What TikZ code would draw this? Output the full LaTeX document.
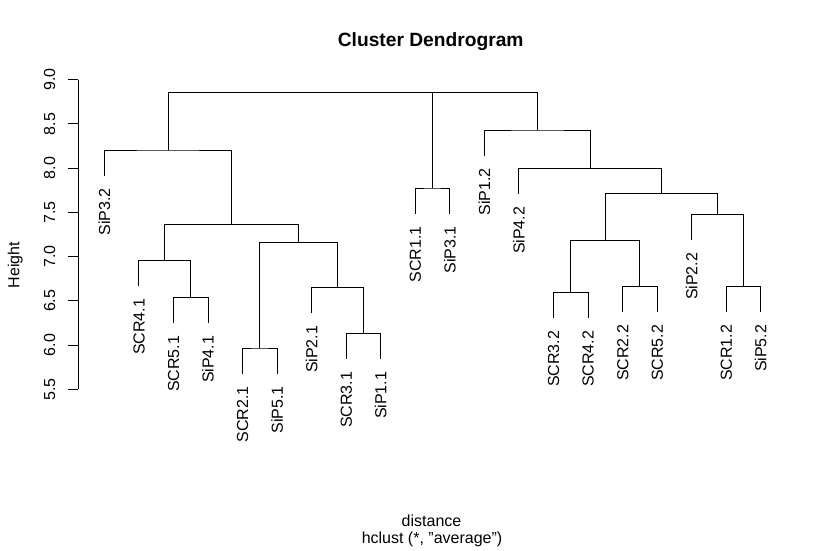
\documentclass[tikz,border=0pt]{standalone}
\usepackage{fontspec}
\setmainfont{Liberation Sans}
\begin{document}
\begin{tikzpicture}[x=1pt,y=-1pt,
  tree/.style={line width=0.9pt,black},
  leaflab/.style={rotate=90,anchor=base east,inner sep=0pt,font=\fontsize{16}{19}\selectfont},
  ticklab/.style={rotate=90,anchor=base,inner sep=0pt,font=\fontsize{16}{19}\selectfont},
  plain/.style={inner sep=0pt,font=\fontsize{16}{19}\selectfont}]
\fill[white] (0,0) rectangle (827,550);
\useasboundingbox (0,0) rectangle (827,550);
% title and labels
\node[inner sep=0pt,anchor=base,font=\fontsize{19.2}{23}\selectfont\bfseries] (title) at (430.7,46.7) {Cluster Dendrogram};
\node[plain,anchor=base] (xlab) at (431.5,526) {distance};
\node[plain,anchor=base] (sub) at (432,543) {hclust (*, "average")};
\node[ticklab] (ylab) at (19.5,265.2) {Height};
% axis
\coordinate (ax0) at (78.3,389.3);
\coordinate (ax1) at (78.3,79.7);
\draw[tree] (ax0) -- (ax1);
\foreach \v/\k in {5.5/0,6.0/1,6.5/2,7.0/3,7.5/4,8.0/5,8.5/6,9.0/7}{
  \coordinate (tk\k) at (78.3,389.3-\k*44.229);
  \coordinate (tl\k) at (68.3,389.3-\k*44.229);
  \draw[tree] (tk\k) -- (tl\k);
  \node[ticklab] (tn\k) at (55,389.3-\k*44.229) {\v};
}
% leaves: index/name/end y
\foreach \i/\n/\y in {1/SiP3.2/175.7,2/SCR4.1/286,3/SCR5.1/323,4/SiP4.1/323,5/SCR2.1/373.7,6/SiP5.1/373.7,7/SiP2.1/313,8/SCR3.1/359,9/SiP1.1/359,10/SCR1.1/213.7,11/SiP3.1/213.7,12/SiP1.2/155.7,13/SiP4.2/194,14/SCR3.2/318,15/SCR4.2/318,16/SCR2.2/312,17/SCR5.2/312,18/SiP2.2/240,19/SCR1.2/312,20/SiP5.2/312}{
  \coordinate (l\i) at (104.3+\i*34.55-34.55,\y);
  \node[leaflab] (t\i) at (104.3+\i*34.55-34.55+5.7,\y+12.6) {\n};
}
% merges
\coordinate (m53) at (190.675,297.3);
\coordinate (m41) at (164.76,260.3);
\coordinate (m21) at (259.78,348);
\coordinate (m31) at (363.43,333.3);
\coordinate (m2b) at (337.51,287.3);
\coordinate (mB) at (298.64,242.3);
\coordinate (mL2) at (231.7,224.3);
\coordinate (mL) at (168,150);
\coordinate (mM) at (432.5,188);
\coordinate (m32) at (570.73,292.3);
\coordinate (m22) at (639.83,286.3);
\coordinate (mR4) at (605.28,240.3);
\coordinate (m12) at (743.48,286.3);
\coordinate (mR5) at (717.56,214.3);
\coordinate (mR3) at (661.42,193.3);
\coordinate (mR2) at (590.16,168.3);
\coordinate (mR) at (537.26,130);
\coordinate (r1) at (300.25,92.3);
\coordinate (root) at (418.76,92.3);
\draw[tree] (l3) |- (m53) -| (l4);
\draw[tree] (l2) |- (m41) -| (m53);
\draw[tree] (l5) |- (m21) -| (l6);
\draw[tree] (l8) |- (m31) -| (l9);
\draw[tree] (l7) |- (m2b) -| (m31);
\draw[tree] (m21) |- (mB) -| (m2b);
\draw[tree] (m41) |- (mL2) -| (mB);
\draw[tree] (l1) |- (mL) -| (mL2);
\draw[tree] (l10) |- (mM) -| (l11);
\draw[tree] (l14) |- (m32) -| (l15);
\draw[tree] (l16) |- (m22) -| (l17);
\draw[tree] (m32) |- (mR4) -| (m22);
\draw[tree] (l19) |- (m12) -| (l20);
\draw[tree] (l18) |- (mR5) -| (m12);
\draw[tree] (mR4) |- (mR3) -| (mR5);
\draw[tree] (l13) |- (mR2) -| (mR3);
\draw[tree] (l12) |- (mR) -| (mR2);
\draw[tree] (mL) |- (r1) -| (mM);
\draw[tree] (r1) -- (root) -| (mR);
\end{tikzpicture}
\end{document}
